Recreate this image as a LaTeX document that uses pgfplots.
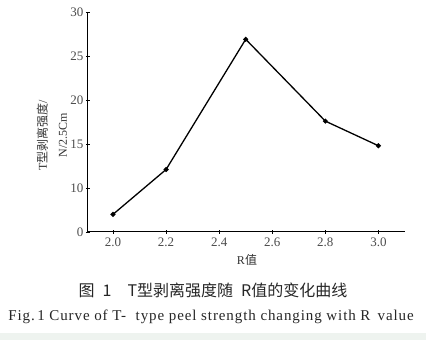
\documentclass[border=0pt]{standalone}
\usepackage{pgfplots}
\pgfplotsset{compat=1.18}
\usepackage{fontspec}
\setmainfont{Liberation Serif}
\newfontfamily\cjk{Noto Sans CJK SC}
\newfontfamily\capfont[LetterSpace=6]{Liberation Serif}
\usetikzlibrary{calc}
\definecolor{strip}{HTML}{EEF3EF}
\begin{document}
\begin{tikzpicture}
\begin{axis}[
  scale only axis,
  width=317pt, height=220pt,
  xmin=1.906, xmax=3.10,
  ymin=5, ymax=30,
  axis lines=left,
  axis line style={line width=1pt, -},
  xtick={2.0,2.2,2.4,2.6,2.8,3.0},
  xticklabels={2.0,2.2,2.4,2.6,2.8,3.0},
  ytick={5,10,15,20,25,30},
  yticklabels={0,10,15,20,25,30},
  tick style={black, line width=0.7pt},
  major tick length=4pt,
  tick align=center,
  tick label style={font=\fontsize{13}{14}\selectfont, text=black!70},
  yticklabel style={xshift=1pt},
  clip=false,
]
\addplot[black, line width=1.3pt, mark=*, mark size=1.8pt] coordinates {
  (2.0,7.0) (2.2,12.1) (2.5,26.9) (2.8,17.6) (3.0,14.8)
};
\coordinate (O) at (rel axis cs:0,0);
\end{axis}
\node[font=\fontsize{12}{13}\selectfont, text=black!80] at ($(O)+(159pt,-28pt)$) {R{\cjk 值}};
\node[rotate=90, align=center, font=\fontsize{12}{20}\selectfont, text=black!80] at ($(O)+(-36pt,97pt)$) {T{\cjk 型剥离强度}/\\N/2.5Cm};
\node[font=\cjk\fontsize{16}{17}\selectfont, text=black!85] at ($(O)+(125pt,-58pt)$) {图\hspace{8pt}1\hspace{16pt}T型剥离强度随\hspace{8pt}R值的变化曲线};
\node[font=\capfont\fontsize{15}{16}\selectfont, text=black!85] at ($(O)+(123pt,-85pt)$) {Fig.\,1 Curve of T-\,\, type peel strength changing with R\, value};
\pgfresetboundingbox
\fill[strip] ($(O)+(-88pt,-101pt)$) rectangle ($(O)+(338pt,-108pt)$);
\path ($(O)+(-88pt,-108pt)$) rectangle ($(O)+(338pt,232pt)$);
\end{tikzpicture}
\end{document}
